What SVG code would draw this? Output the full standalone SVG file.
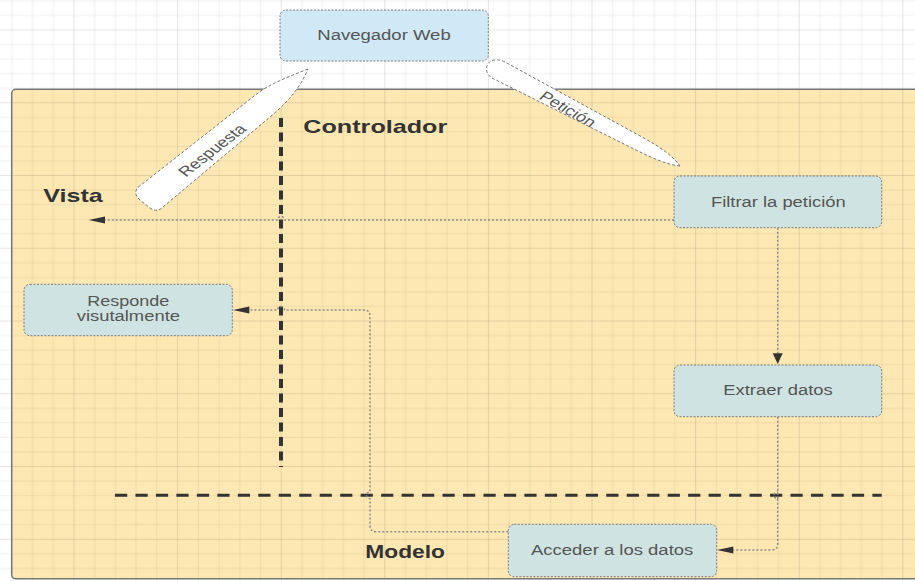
<svg xmlns="http://www.w3.org/2000/svg" width="915" height="581" viewBox="0 0 915 581">
  <style>
    .node rect { stroke: #7a7a7a; stroke-width: 1; stroke-dasharray: 2 1.5; }
    .blue { fill: #d1e9f6; }
    .teal { fill: #cfe3e2; }
    .ntext { font-family: "Liberation Sans", Arial, sans-serif; font-size: 14px; fill: #555; }
    .label { font-family: "Liberation Sans", Arial, sans-serif; font-size: 19px; font-weight: bold; fill: #333; }
    .conn { fill: none; stroke: #8a8a8a; stroke-width: 1.5; stroke-dasharray: 2 2; }
    .sep { fill: none; stroke: #333; }
    .blade { fill: #fff; stroke: #777; stroke-width: 1; stroke-dasharray: 3 2; }
    .gmin { fill: #000; fill-opacity: 0.055; }
    .gmaj { fill: #000; fill-opacity: 0.1; }
  </style>
  <defs>
    <!-- stretched drawing grid: 5 x 5 minor cells per major cell -->
    <pattern id="grid" patternUnits="userSpaceOnUse" x="73.5" y="29.5" width="103.6" height="72.75">
      <rect class="gmaj" x="0" y="0" width="1" height="72.75"/>
      <rect class="gmin" x="20.72" y="0" width="1" height="72.75"/>
      <rect class="gmin" x="41.44" y="0" width="1" height="72.75"/>
      <rect class="gmin" x="62.16" y="0" width="1" height="72.75"/>
      <rect class="gmin" x="82.88" y="0" width="1" height="72.75"/>
      <rect class="gmaj" x="0" y="0" width="103.6" height="1"/>
      <rect class="gmin" x="0" y="14.55" width="103.6" height="1"/>
      <rect class="gmin" x="0" y="29.1" width="103.6" height="1"/>
      <rect class="gmin" x="0" y="43.65" width="103.6" height="1"/>
      <rect class="gmin" x="0" y="58.2" width="103.6" height="1"/>
    </pattern>
    <!-- arrowheads: wide-and-short for horizontal runs, narrow for vertical runs -->
    <marker id="arrH" markerUnits="userSpaceOnUse" viewBox="0 -5 17 10" markerWidth="17" markerHeight="10" refX="0" refY="0" orient="auto" overflow="visible">
      <path d="M0,-3.6 L16.3,0 L0,3.6 Z" fill="#333"/>
    </marker>
    <marker id="arrV" markerUnits="userSpaceOnUse" viewBox="0 -6 12 12" markerWidth="12" markerHeight="12" refX="0" refY="0" orient="auto" overflow="visible">
      <path d="M0,-5 L10.7,0 L0,5 Z" fill="#333"/>
    </marker>
  </defs>

  <!-- page -->
  <rect x="0" y="0" width="915" height="581" fill="#fff"/>
  <!-- application area -->
  <rect x="11.7" y="89.3" width="920" height="489.5" rx="4" fill="#fde8b3"/>
  <rect x="0" y="0" width="915" height="581" fill="url(#grid)"/>
  <rect x="11.7" y="89.3" width="920" height="489.5" rx="4" fill="none" stroke="#777" stroke-width="1.5"/>

  <!-- layer separators -->
  <g id="separators">
    <line class="sep" x1="281" y1="118" x2="281" y2="467" stroke-width="4" stroke-dasharray="9 5.5"/>
    <line class="sep" x1="115" y1="495.3" x2="881.7" y2="495.3" stroke-width="3" stroke-dasharray="12.2 8.27"/>
  </g>

  <!-- layer titles -->
  <text class="label" x="303.3" y="133.3" textLength="144" lengthAdjust="spacingAndGlyphs">Controlador</text>
  <text class="label" x="43.3" y="201.7" textLength="59.4" lengthAdjust="spacingAndGlyphs">Vista</text>
  <text class="label" x="365.3" y="558.3" textLength="79.7" lengthAdjust="spacingAndGlyphs">Modelo</text>

  <!-- connectors -->
  <g id="connectors">
    <path class="conn" d="M674,220 H284.5 a3.5,3.5 0 0 0 -7,0 H105" marker-end="url(#arrH)"/>
    <path class="conn" d="M508.3,531.7 H376 Q370,531.7 370,525.7 V498.8 a3.5,3.5 0 0 1 0,-7 V316 Q370,310 364,310 H284.5 a3.5,3.5 0 0 0 -7,0 H249.3" marker-end="url(#arrH)"/>
    <path class="conn" d="M777.7,227.7 V353.3" marker-end="url(#arrV)"/>
    <path class="conn" d="M777.7,416.7 V498.8 a3.5,3.5 0 0 1 0,-7 M777.7,498.8 V544 Q777.7,550 771.7,550 H733.3" marker-end="url(#arrH)"/>
  </g>

  <!-- request / response blades -->
  <g id="respuesta">
    <path class="blade" d="M308,69 C290,76 270,84 258,93 L141,185 Q131,192 140,200 L150,208 Q157,213 163,207 L270,117 C288,102 300,88 308,69 Z"/>
    <text class="ntext" text-anchor="middle" transform="translate(212,150) scale(1.31,1) rotate(-45.6)" dy="5">Respuesta</text>
  </g>
  <g id="peticion">
    <path class="blade" d="M680,166 C668,165 652,158 636,150 L494,79 C484,75 484,62 494,60 Q499,59 505,62 L642,137 C660,147 672,155 680,166 Z"/>
    <text class="ntext" text-anchor="middle" transform="translate(568,109) scale(1.31,1) rotate(36.4)" dy="5">Petición</text>
  </g>

  <!-- nodes -->
  <g id="navegador" class="node">
    <rect class="blue" x="280" y="10" width="208.3" height="51" rx="6"/>
    <text class="ntext" x="317.3" y="39.5" textLength="133.4" lengthAdjust="spacingAndGlyphs">Navegador Web</text>
  </g>
  <g id="filtrar" class="node">
    <rect class="teal" x="674" y="176" width="207.7" height="51.7" rx="6"/>
    <text class="ntext" x="711" y="206.5" textLength="134.7" lengthAdjust="spacingAndGlyphs">Filtrar la petición</text>
  </g>
  <g id="extraer" class="node">
    <rect class="teal" x="674" y="365" width="207.7" height="51.7" rx="6"/>
    <text class="ntext" x="723.3" y="395" textLength="109.4" lengthAdjust="spacingAndGlyphs">Extraer datos</text>
  </g>
  <g id="acceder" class="node">
    <rect class="teal" x="508.3" y="524.3" width="208.4" height="52.4" rx="6"/>
    <text class="ntext" x="531" y="554.5" textLength="162.3" lengthAdjust="spacingAndGlyphs">Acceder a los datos</text>
  </g>
  <g id="responde" class="node">
    <rect class="teal" x="24" y="284.3" width="208.3" height="51.4" rx="6"/>
    <text class="ntext" x="87.3" y="306" textLength="82" lengthAdjust="spacingAndGlyphs">Responde</text>
    <text class="ntext" x="76.7" y="320.7" textLength="103.3" lengthAdjust="spacingAndGlyphs">visutalmente</text>
  </g>
</svg>
